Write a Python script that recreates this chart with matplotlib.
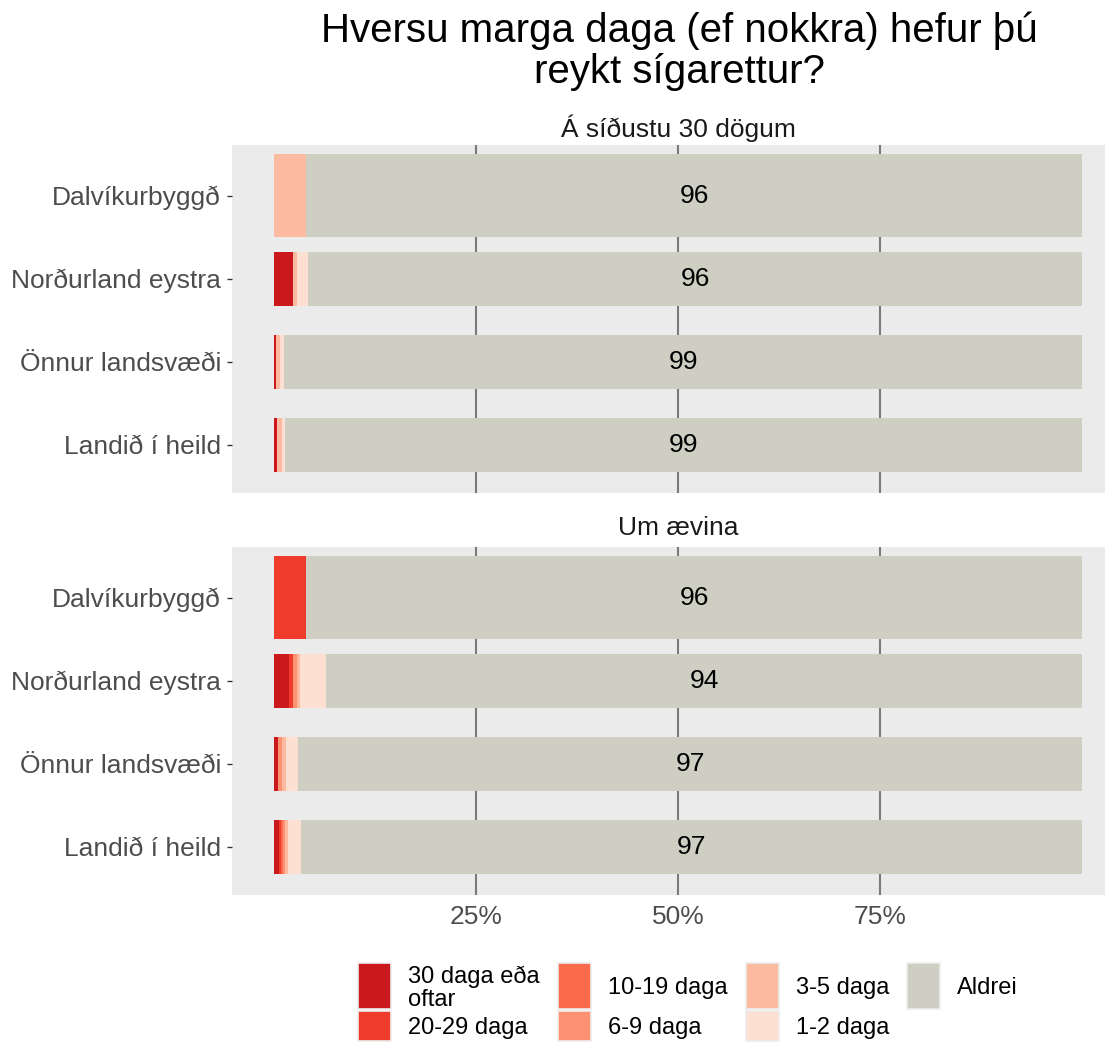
import numpy as np
import matplotlib
matplotlib.use("Agg")
import matplotlib.pyplot as plt
from matplotlib.patches import Rectangle

plt.rcParams["font.family"] = ["Liberation Sans", "DejaVu Sans"]

# ---- data -------------------------------------------------------------
title_lines = ["Hversu marga daga (ef nokkra) hefur þú", "reykt sígarettur?"]
panels = ["Á síðustu 30 dögum", "Um ævina"]
categories = ["Dalvíkurbyggð", "Norðurland eystra", "Önnur landsvæði", "Landið í heild"]
levels = ["30 daga eða\noftar", "20-29 daga", "10-19 daga", "6-9 daga",
          "3-5 daga", "1-2 daga", "Aldrei"]

# percentages per category, one list per answer level (same order as levels)
last30_30plus = [0.0, 2.35, 0.30, 0.40]
last30_20_29 = [0.0, 0.0, 0.0, 0.0]
last30_10_19 = [0.0, 0.0, 0.0, 0.0]
last30_6_9 = [0.0, 0.0, 0.0, 0.0]
last30_3_5 = [4.0, 0.50, 0.45, 0.55]
last30_1_2 = [0.0, 1.40, 0.50, 0.45]
last30_never = [96.0, 95.75, 98.75, 98.6]

life_30plus = [0.0, 1.85, 0.50, 0.60]
life_20_29 = [4.0, 0.50, 0.0, 0.25]
life_10_19 = [0.0, 0.0, 0.0, 0.25]
life_6_9 = [0.0, 0.50, 0.50, 0.30]
life_3_5 = [0.0, 0.40, 0.50, 0.30]
life_1_2 = [0.0, 3.20, 1.50, 1.60]
life_never = [96.0, 93.55, 97.0, 96.7]

bar_heights = [1.0, 0.65, 0.65, 0.65]
xticks = [25, 50, 75]
xtick_labels = ["25%", "50%", "75%"]

colors = ["#CB181D", "#EF3B2C", "#FB6A4A", "#FC9272", "#FCBBA1", "#FEE0D2", "#CFCEC2"]

panel_data = [
    [last30_30plus, last30_20_29, last30_10_19, last30_6_9, last30_3_5, last30_1_2, last30_never],
    [life_30plus, life_20_29, life_10_19, life_6_9, life_3_5, life_1_2, life_never],
]

# ---- figure -----------------------------------------------------------
W, H = 1115, 1042
fig = plt.figure(figsize=(W / 100, H / 100), dpi=100)


def fx(px):
    return px / W


def fy(py):
    return 1 - py / H


panel_boxes = [(232, 145, 1105, 493), (232, 547, 1105, 895)]
strip_y = [128, 528]

ypos = np.arange(len(categories))[::-1] + 1  # Dalvíkurbyggð at top

for i, (name, series) in enumerate(zip(panels, panel_data)):
    x0, y0, x1, y1 = panel_boxes[i]
    ax = fig.add_axes([fx(x0), fy(y1), fx(x1) - fx(x0), fy(y0) - fy(y1)])
    ax.set_facecolor("#EBEBEB")
    left = np.zeros(len(categories))
    for vals, col in zip(series, colors):
        vals = np.asarray(vals, dtype=float)
        ax.barh(ypos, vals, left=left, height=bar_heights, color=col,
                linewidth=0, zorder=2)
        left = left + vals
    # value labels centred on the "Aldrei" segment
    never = np.asarray(series[-1], dtype=float)
    start = 100 - never
    for y, s, v in zip(ypos, start, never):
        ax.text(s + v / 2, y, f"{int(round(v))}", ha="center", va="center",
                fontsize=19, color="black", zorder=3)

    ax.set_xlim(-5.2, 102.85)
    ax.set_ylim(0.42, 4.61)
    ax.set_xticks(xticks)
    ax.grid(axis="x", color="#7A7A7A", linewidth=1.5, zorder=1)
    ax.grid(axis="y", visible=False)
    ax.set_axisbelow(True)
    for sp in ax.spines.values():
        sp.set_visible(False)
    ax.set_yticks(ypos)
    ax.set_yticklabels(categories)
    ax.tick_params(axis="y", length=3.5, width=1, color="#333333",
                   labelsize=19, labelcolor="#4D4D4D", pad=4.5)
    if i == len(panels) - 1:
        ax.set_xticklabels(xtick_labels)
        ax.tick_params(axis="x", length=0, labelsize=19, labelcolor="#4D4D4D", pad=7)
    else:
        ax.tick_params(axis="x", length=0, labelbottom=False)

    fig.text(fx(678), fy(strip_y[i]), name, ha="center", va="center",
             fontsize=19, color="#1A1A1A")

for line, base in zip(title_lines, [42, 83]):
    fig.text(fx(679), fy(base), line, ha="center", va="baseline", fontsize=29,
             color="black")

# ---- legend -------------------------------------------------------------
key_cols = [358, 558, 746, 907]
key_w = 33
rows = [(963, 1009), (1011, 1041)]
slots = [(0, 0), (0, 1), (1, 0), (1, 1), (2, 0), (2, 1), (3, 0)]
for lab, col, (c, r) in zip(levels, colors, slots):
    kx = key_cols[c]
    ry0, ry1 = rows[r]
    fig.patches.append(Rectangle((fx(kx), fy(ry1)), fx(key_w), fy(ry0) - fy(ry1),
                                 transform=fig.transFigure, facecolor=col,
                                 edgecolor="#EDEDED", linewidth=1.2))
    fig.text(fx(kx + 50), fy((ry0 + ry1) / 2 + 2), lab, ha="left", va="center",
             fontsize=17, color="black", linespacing=1.05)

fig.savefig("out.png", dpi=100, facecolor="white")
